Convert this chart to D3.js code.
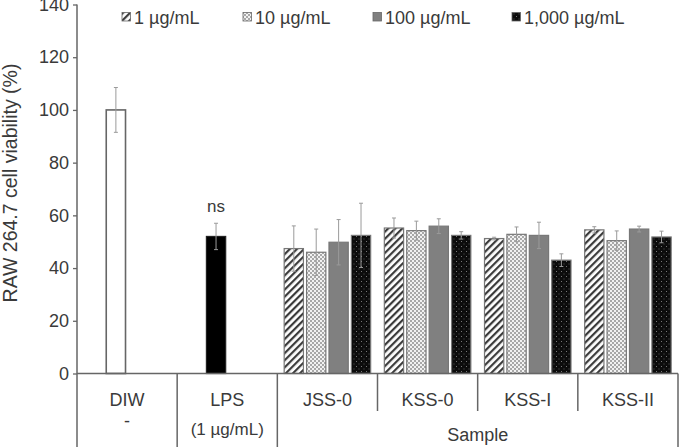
<!DOCTYPE html>
<html>
<head>
<meta charset="utf-8">
<style>
  body { margin: 0; background: #fff; }
  text { font-family: "Liberation Sans", Arial, sans-serif; fill: #3a3a3a; }
</style>
</head>
<body>
<svg id="chart" width="684" height="447"></svg>
<script src="https://d3js.org/d3.v7.min.js"></script>
<script>
// data
const groups = ["DIW", "LPS", "JSS-0", "KSS-0", "KSS-I", "KSS-II"];
const groupSub = ["-", "(1 \u00b5g/mL)", "", "", "", ""];
const series = ["1 \u00b5g/mL", "10 \u00b5g/mL", "100 \u00b5g/mL", "1,000 \u00b5g/mL"];
const controlValues = [100, 52];        // DIW, LPS
const controlErrors = [8.5, 5];
const sampleNames = ["JSS-0", "KSS-0", "KSS-I", "KSS-II"];
const s1 = [47.4, 55.2, 51.2, 54.5];
const s2 = [46.0, 54.2, 52.8, 50.4];
const s3 = [49.8, 55.9, 52.4, 54.8];
const s4 = [52.4, 52.4, 43.0, 51.8];
const e1 = [8.6, 3.8, 0.5, 1.2];
const e2 = [8.8, 3.6, 2.8, 3.7];
const e3 = [8.6, 2.8, 5.0, 1.1];
const e4 = [12.2, 1.4, 2.4, 2.2];
const yTicks = [0, 20, 40, 60, 80, 100, 120, 140];

const svg = d3.select("#chart");
const plotL = 77, plotR = 678, plotT = 4.5, base = 373.5, plotB = 447;

const y = d3.scaleLinear().domain([0, 140]).range([base, plotT]);
const x0 = d3.scaleBand().domain(groups).range([plotL, plotR]);
const x1 = d3.scaleBand().domain(series).range([0, 86.5]).paddingInner(0.14);
const inset = (x0.bandwidth() - 86.5) / 2;

// patterns
const defs = svg.append("defs");
const p1 = defs.append("pattern").attr("id", "p0").attr("patternUnits", "userSpaceOnUse")
  .attr("width", 5).attr("height", 5).attr("patternTransform", "rotate(45)");
p1.append("rect").attr("width", 5).attr("height", 5).attr("fill", "#fff");
p1.append("rect").attr("width", 2.2).attr("height", 5).attr("fill", "#3a3a3a");

const p2 = defs.append("pattern").attr("id", "p1").attr("patternUnits", "userSpaceOnUse")
  .attr("width", 4).attr("height", 4);
p2.append("rect").attr("width", 4).attr("height", 4).attr("fill", "#a8a8a8");
p2.append("rect").attr("width", 2).attr("height", 2).attr("fill", "#f2f2f2");
p2.append("rect").attr("x", 2).attr("y", 2).attr("width", 2).attr("height", 2).attr("fill", "#f2f2f2");

const p3 = defs.append("pattern").attr("id", "p2").attr("patternUnits", "userSpaceOnUse")
  .attr("width", 4).attr("height", 4);
p3.append("rect").attr("width", 4).attr("height", 4).attr("fill", "#808080");

const p4 = defs.append("pattern").attr("id", "p3").attr("patternUnits", "userSpaceOnUse")
  .attr("width", 5).attr("height", 5);
p4.append("rect").attr("width", 5).attr("height", 5).attr("fill", "#0c0c0c");
p4.append("rect").attr("x", 1).attr("y", 1).attr("width", 1).attr("height", 1).attr("fill", "#777");
p4.append("rect").attr("x", 3.5).attr("y", 3.5).attr("width", 1).attr("height", 1).attr("fill", "#555");

// build bar list
const vals = [s1, s2, s3, s4], errs = [e1, e2, e3, e4];
const bars = [];
sampleNames.forEach((g, gi) => {
  series.forEach((s, si) => {
    bars.push({ g, s, v: vals[si][gi], e: errs[si][gi], fill: `url(#p${si})`, stroke: "#777" });
  });
});
const controlSlot = series[1];
bars.push({ g: "DIW", s: controlSlot, v: controlValues[0], e: controlErrors[0], fill: "#fff", stroke: "#666" });
bars.push({ g: "LPS", s: controlSlot, v: controlValues[1], e: controlErrors[1], fill: "#000", stroke: "#222" });

const bx = d => x0(d.g) + inset + x1(d.s);

svg.append("g").selectAll("rect").data(bars).join("rect")
  .attr("x", bx)
  .attr("y", d => y(d.v))
  .attr("width", x1.bandwidth())
  .attr("height", d => base - y(d.v))
  .attr("fill", d => d.fill)
  .attr("stroke", d => d.stroke)
  .attr("stroke-width", d => d.g === "DIW" ? 1.6 : 1.2);

// error bars
const eg = svg.append("g").attr("stroke", "#9a9a9a").attr("stroke-width", 1);
const cx = d => bx(d) + x1.bandwidth() / 2;
eg.selectAll("line.v").data(bars).join("line").attr("class", "v")
  .attr("x1", cx).attr("x2", cx)
  .attr("y1", d => y(d.v + d.e)).attr("y2", d => y(d.v - d.e));
eg.selectAll("line.t").data(bars).join("line").attr("class", "t")
  .attr("x1", d => cx(d) - 2).attr("x2", d => cx(d) + 2)
  .attr("y1", d => y(d.v + d.e)).attr("y2", d => y(d.v + d.e));
eg.selectAll("line.b").data(bars).join("line").attr("class", "b")
  .attr("x1", d => cx(d) - 2).attr("x2", d => cx(d) + 2)
  .attr("y1", d => y(d.v - d.e)).attr("y2", d => y(d.v - d.e));

// "ns" above LPS
const lps = bars.find(d => d.g === "LPS");
svg.append("text").attr("x", cx(lps)).attr("y", y(lps.v + lps.e) - 11)
  .attr("text-anchor", "middle").attr("font-size", 17).text("ns");

// y axis
const yAxis = d3.axisLeft(y).tickValues(yTicks).tickSize(4).tickPadding(4);
const ya = svg.append("g").attr("transform", `translate(${plotL},0)`).call(yAxis);
ya.select(".domain").remove();
ya.selectAll(".tick line").attr("stroke", "#666").attr("stroke-width", 1.3);
ya.selectAll(".tick text").attr("font-size", 18).attr("fill", "#3a3a3a")
  .attr("font-family", "Liberation Sans, Arial, sans-serif");

svg.append("text")
  .attr("transform", `translate(17,${(plotT + base) / 2 - 6}) rotate(-90)`)
  .attr("text-anchor", "middle").attr("font-size", 19.5)
  .text("RAW 264.7 cell viability (%)");

// table lines
const lg = svg.append("g").attr("stroke", "#666").attr("stroke-width", 1.5);
lg.append("line").attr("x1", plotL).attr("x2", plotL).attr("y1", plotT).attr("y2", plotB);
lg.append("line").attr("x1", plotL).attr("x2", plotR).attr("y1", base).attr("y2", base);
groups.slice(1).forEach(g => {
  const inner = sampleNames.includes(g) && g !== sampleNames[0];
  lg.append("line").attr("x1", x0(g)).attr("x2", x0(g))
    .attr("y1", base).attr("y2", inner ? 411 : plotB);
});
lg.append("line").attr("x1", plotR).attr("x2", plotR).attr("y1", base).attr("y2", plotB);

// table labels
const tg = svg.append("g").attr("text-anchor", "middle").attr("font-size", 18);
groups.forEach((g, i) => {
  tg.append("text").attr("x", x0(g) + x0.bandwidth() / 2).attr("y", 405.5).text(g);
  if (groupSub[i]) {
    tg.append("text").attr("x", x0(g) + x0.bandwidth() / 2).attr("y", i === 0 ? 427 : 435)
      .attr("font-size", i === 0 ? 18 : 17).text(groupSub[i]);
  }
});
const sx0 = x0(sampleNames[0]), sx1 = x0(sampleNames[sampleNames.length - 1]) + x0.bandwidth();
tg.append("text").attr("x", (sx0 + sx1) / 2).attr("y", 441).text("Sample");

// legend
const legendX = [122, 243, 373, 512];
const leg = svg.append("g");
series.forEach((s, i) => {
  leg.append("rect").attr("x", legendX[i]).attr("y", 12.5).attr("width", 8.5).attr("height", 8.5)
    .attr("fill", `url(#p${i})`).attr("stroke", "#666").attr("stroke-width", 0.8);
  leg.append("text").attr("x", legendX[i] + 12).attr("y", 23.5).attr("font-size", 18).text(s);
});
</script>
</body>
</html>
